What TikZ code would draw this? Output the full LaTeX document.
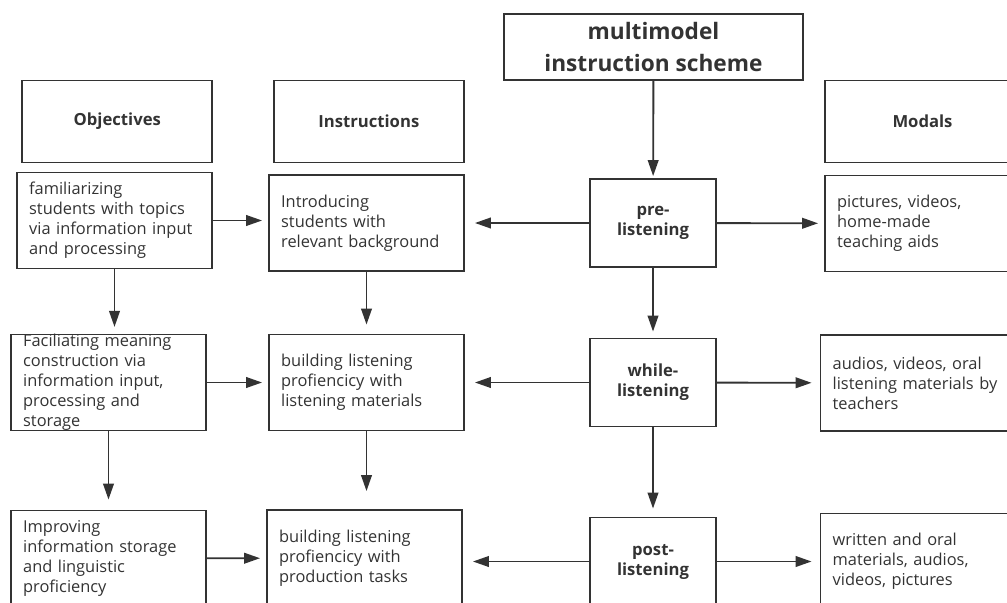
\documentclass[tikz,border=0pt]{standalone}
\usepackage{fontspec}
\setmainfont{Open Sans}
\usepackage{tikz}
\usetikzlibrary{shapes, arrows, arrows.meta, positioning}
\usepackage{color}
\definecolor{inkgray}{HTML}{333333}

\begin{document}
\begin{tikzpicture}[x=0.75pt, y=-0.75pt, line width=1.4pt]
  \tikzstyle{titlebox} = [rectangle, draw, color=inkgray, align=center, minimum width=224.25pt, minimum height=49.5pt, inner sep=0pt, font=\bfseries\fontsize{17}{24}\selectfont]
  \tikzstyle{headbox} = [rectangle, draw, color=inkgray, text centered, minimum width=142.5pt, minimum height=61.5pt, font=\bfseries\fontsize{12.5}{15}\selectfont]
  \tikzstyle{textbox} = [rectangle, draw, color=inkgray, align=left, text width=128pt, inner xsep=9.1pt, inner ysep=0pt, minimum width=146.25pt, minimum height=72pt, font=\fontsize{12.3}{15}\selectfont]
  \tikzstyle{stagebox} = [rectangle, draw, color=inkgray, align=center, minimum width=94.5pt, minimum height=66pt, font=\bfseries\fontsize{12.5}{15}\selectfont]
  \tikzstyle{connector} = [draw, color=inkgray, -{Triangle[length=12pt, width=8pt]}]
  \useasboundingbox (0,0) rectangle (1007,603);
  \clip (0,0) rectangle (1007,603);
  % column headers
  \node [titlebox] (scheme) at (653.5,47) {multimodel\\instruction scheme};
  \node [headbox] (objHead) at (117.3,121.5) {Objectives};
  \node [headbox, right = 44.75pt of objHead] (insHead) {Instructions};
  \node [headbox, minimum width=146.25pt] (modHead) at (922.5,121.5) {Modals};
  % pre-listening row
  \node [textbox] (objPre) at (114.5,220.5) {familiarizing\\students with topics\\via information input\\and processing};
  \node [textbox] (insPre) at (366.5,223) {Introducing\\students with\\relevant background};
  \node [stagebox] (pre) at (653,223) {pre-\\listening};
  \node [textbox] (modPre) at (922.5,223.5) {pictures, videos,\\home-made\\teaching aids};
  % while-listening row
  \node [textbox, inner ysep=-3pt] (objWhile) at (108.5,382.5) {Faciliating meaning\\construction via\\information input,\\processing and\\storage};
  \node [textbox] (insWhile) at (366.5,382.5) {building listening\\profiencicy with\\listening materials};
  \node [stagebox] (while) at (653,382.5) {while-\\listening};
  \node [textbox] (modWhile) at (918,383) {audios, videos, oral\\listening materials by\\teachers};
  % post-listening row
  \node [textbox] (objPost) at (108.5,558.5) {Improving\\information storage\\and linguistic\\proficiency};
  \node [textbox] (insPost) at (364.5,558) {building listening\\profiencicy with\\production tasks};
  \node [stagebox] (post) at (653,561.5) {post-\\listening};
  \node [textbox] (modPost) at (918,561.5) {written and oral\\materials, audios,\\videos, pictures};
  % stage column
  \path [connector, shorten >=1.5pt] (scheme) -- (pre);
  \path [connector, shorten >=4.5pt] (pre) -- (while);
  \path [connector, shorten >=6pt] (while) -- (post);
  \path [connector, shorten >=7.5pt] (pre) -- (insPre);
  \path [connector, shorten >=4.5pt] (pre) -- (modPre);
  \path [connector, shorten >=7.5pt] (while) -- (insWhile);
  \path [connector, shorten >=6pt] (while) -- (modWhile);
  \path [connector, shorten >=7.5pt] (post.west) -- (post.west -| insPost.east);
  \path [connector, shorten >=6pt] (post) -- (modPost);
  % objectives and instructions
  \path [connector, shorten >=4.5pt] (objPre.east) -- (objPre.east -| insPre.west);
  \path [connector, shorten >=4.5pt] (objWhile) -- (insWhile);
  \path [connector, shorten >=4.5pt] (objPost) -- (insPost);
  \path [connector, shorten >=5pt] (objPre.south) -- (objPre.south |- objWhile.north);
  \path [connector, shorten >=7.5pt] (objWhile.south) -- (objWhile.south |- objPost.north);
  \path [connector, shorten >=6.75pt] (insPre) -- (insWhile);
  \path [connector, shorten >=13.5pt] (insWhile.south) -- (insWhile.south |- insPost.north);
\end{tikzpicture}
\end{document}
